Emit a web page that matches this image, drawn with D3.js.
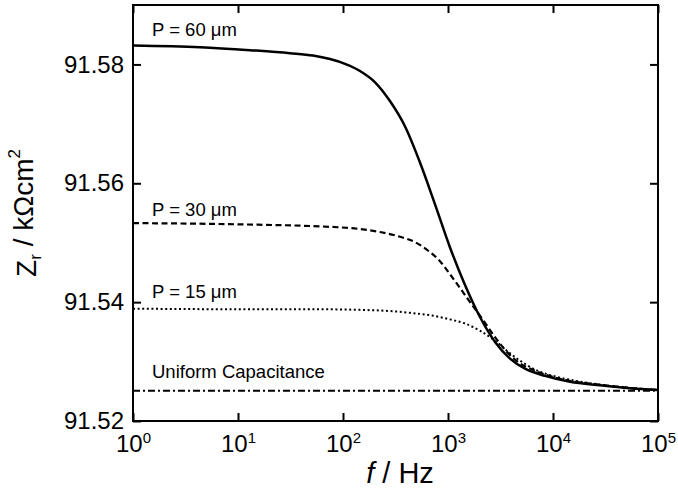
<!DOCTYPE html>
<html>
<head>
<meta charset="utf-8">
<script src="https://cdn.jsdelivr.net/npm/d3@7"></script>
<style>
  html, body { margin: 0; padding: 0; background: #fff; }
  svg { display: block; font-family: "Liberation Sans", Arial, Helvetica, sans-serif; }
</style>
</head>
<body>
<svg id="chart" width="678" height="495"></svg>
<script>
// Frequency (Hz) and real impedance (kΩ cm²) for each pore spacing P
const freq60 = [1, 4.35, 13, 31.3, 51.8, 75.2, 104.5, 145, 202, 281, 389, 541, 751, 1045, 1452, 2017, 2805, 3895, 5410, 8390, 14520, 28050, 54100, 100000];
const zr60   = [91.5832, 91.5829, 91.5824, 91.5819, 91.5815, 91.5809, 91.5801, 91.5789, 91.5770, 91.5738, 91.5696, 91.5635, 91.5565, 91.5492, 91.5429, 91.5375, 91.5333, 91.5305, 91.5288, 91.5276, 91.5266, 91.5260, 91.5255, 91.5252];

const freq30 = [1, 9.36, 89.6, 145, 225, 349, 485, 675, 839, 1045, 1300, 1622, 2155, 2805, 3650, 4850, 6455, 11670, 28050, 100000];
const zr30   = [91.5533, 91.5531, 91.5526, 91.5523, 91.5518, 91.5510, 91.5501, 91.5484, 91.5469, 91.5447, 91.5424, 91.5400, 91.5370, 91.5341, 91.5316, 91.5297, 91.5286, 91.5271, 91.5261, 91.5252];

const freq15 = [1, 13, 60.4, 145, 281, 435, 675, 1045, 1452, 2017, 2805, 3895, 5410, 7510, 11670, 20180, 38900, 100000];
const zr15   = [91.5389, 91.5388, 91.5388, 91.5387, 91.5385, 91.5382, 91.5378, 91.5371, 91.5364, 91.5352, 91.5335, 91.5314, 91.5296, 91.5283, 91.5273, 91.5265, 91.5258, 91.5252];

const freqUniform = [1, 100000];
const zrUniform   = [91.5251, 91.5251];

const seriesNames = ["P = 60 \u03bcm", "P = 30 \u03bcm", "P = 15 \u03bcm", "Uniform Capacitance"];

const xTickValues = [1, 10, 100, 1000, 10000, 100000];
const xTickExponents = ["0", "1", "2", "3", "4", "5"];
const yTickValues = [91.52, 91.54, 91.56, 91.58];

const xDomain = [1, 100000];
const yDomain = [91.52, 91.59];

// Layout
const W = 678, H = 495;
const margin = { left: 133, top: 5, right: 20, bottom: 74 };
const iw = W - margin.left - margin.right;
const ih = H - margin.top - margin.bottom;

const svg = d3.select("#chart");
const g = svg.append("g").attr("transform", `translate(${margin.left},${margin.top})`);

const x = d3.scaleLog().domain(xDomain).range([0, iw]);
const y = d3.scaleLinear().domain(yDomain).range([ih, 0]);

// Curves
const series = [
  { name: seriesNames[0], f: freq60, z: zr60, width: 2.5, dash: null, labelDy: -9 },
  { name: seriesNames[1], f: freq30, z: zr30, width: 2.2, dash: "6,3.5", labelDy: -7 },
  { name: seriesNames[2], f: freq15, z: zr15, width: 2, dash: "2,2.6", labelDy: -11 },
  { name: seriesNames[3], f: freqUniform, z: zrUniform, width: 2, dash: "7,3,2,3", labelDy: -13 }
];

const line = d3.line()
  .x(d => x(d[0]))
  .y(d => y(d[1]))
  .curve(d3.curveMonotoneX);

const plot = g.append("g");
series.forEach(s => {
  const pts = s.f.map((f, i) => [f, s.z[i]]);
  plot.append("path")
    .datum(pts)
    .attr("fill", "none")
    .attr("stroke", "#000")
    .attr("stroke-width", s.width)
    .attr("stroke-dasharray", s.dash)
    .attr("d", line);
  plot.append("text")
    .attr("x", x(s.f[0]) + 19)
    .attr("y", y(s.z[0]) + s.labelDy)
    .attr("font-size", 18.5)
    .attr("fill", "#000")
    .text(s.name);
});

// Axes with inward ticks on all four sides
const tickLen = 8;
const styleAxis = sel => {
  sel.select(".domain").remove();
  sel.selectAll(".tick line").attr("stroke", "#000").attr("stroke-width", 2);
};

const xb = g.append("g")
  .attr("transform", `translate(0,${ih})`)
  .call(d3.axisBottom(x).tickValues(xTickValues).tickSize(-tickLen).tickPadding(14).tickFormat(() => ""))
  .call(styleAxis);

xb.selectAll(".tick text").each(function(d, i) {
  const t = d3.select(this)
    .attr("font-size", 24)
    .attr("fill", "#000")
    .attr("dy", "0.71em")
    .attr("font-family", null);
  t.append("tspan").text("10");
  t.append("tspan").attr("font-size", 15).attr("dy", "-0.6em").text(xTickExponents[i]);
});

g.append("g")
  .call(d3.axisTop(x).tickValues(xTickValues).tickSize(-tickLen).tickFormat(() => ""))
  .call(styleAxis);

const yl = g.append("g")
  .call(d3.axisLeft(y).tickValues(yTickValues).tickSize(-tickLen).tickPadding(9).tickFormat(d3.format(".2f")))
  .call(styleAxis);
yl.selectAll(".tick text").attr("font-size", 24).attr("fill", "#000").attr("font-family", null);

g.append("g")
  .attr("transform", `translate(${iw},0)`)
  .call(d3.axisRight(y).tickValues(yTickValues).tickSize(-tickLen).tickFormat(() => ""))
  .call(styleAxis);

// Frame
g.append("rect")
  .attr("x", 0).attr("y", 0)
  .attr("width", iw).attr("height", ih)
  .attr("fill", "none")
  .attr("stroke", "#000")
  .attr("stroke-width", 2);

// Axis titles
const xt = svg.append("text")
  .attr("x", 400)
  .attr("y", 483)
  .attr("text-anchor", "middle")
  .attr("font-size", 29)
  .attr("fill", "#000");
xt.append("tspan").attr("font-style", "italic").text("f");
xt.append("tspan").text(" / Hz");

const yt = svg.append("text")
  .attr("transform", `translate(36,${margin.top + ih / 2}) rotate(-90)`)
  .attr("text-anchor", "middle")
  .attr("font-size", 28)
  .attr("fill", "#000");
yt.append("tspan").text("Z");
yt.append("tspan").attr("font-size", 17).attr("dy", "0.3em").text("r");
yt.append("tspan").attr("dy", "-0.3em").text(" / k\u03a9cm");
yt.append("tspan").attr("font-size", 17).attr("dy", "-0.75em").text("2");
</script>
</body>
</html>
